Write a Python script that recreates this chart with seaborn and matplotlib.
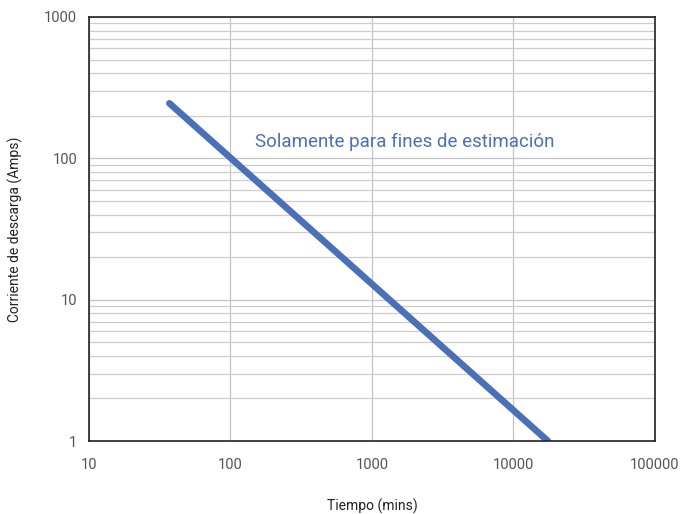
import pandas as pd
import numpy as np
import matplotlib.pyplot as plt
import seaborn as sb
from matplotlib.ticker import FixedLocator, FixedFormatter, LogLocator, NullFormatter

# ---- D A T A ----
tiempo = [37, 17500]
corriente = [245, 1]
x_ticks = [10, 100, 1000, 10000, 100000]
x_labels = ["10", "100", "1000", "10000", "100000"]
y_ticks = [1, 10, 100, 1000]
y_labels = ["1", "10", "100", "1000"]

df = pd.DataFrame({"Tiempo": tiempo, "Corriente": corriente})

# ---- P L O T ----
sb.set_style("white")
plt.rcParams["font.family"] = ["Roboto", "DejaVu Sans"]

fig = plt.figure(figsize=(6.82, 5.14), dpi=100)
ax = fig.add_axes([0.1305, 0.142, 0.8299, 0.825])

sb.lineplot(data=df, x="Tiempo", y="Corriente", ax=ax, color="#4a70b8",
            linewidth=4.8, solid_capstyle="round")

ax.set_xscale("log")
ax.set_yscale("log")
ax.set_xlim(10, 100000)
ax.set_ylim(1, 1000)

ax.xaxis.set_major_locator(FixedLocator(x_ticks))
ax.xaxis.set_major_formatter(FixedFormatter(x_labels))
ax.xaxis.set_minor_locator(FixedLocator([]))
ax.yaxis.set_major_locator(FixedLocator(y_ticks))
ax.yaxis.set_major_formatter(FixedFormatter(y_labels))
ax.yaxis.set_minor_locator(LogLocator(base=10, subs=np.arange(2, 10)))
ax.yaxis.set_minor_formatter(NullFormatter())

ax.grid(which="major", axis="both", color="#c4c4c4", linewidth=0.9)
ax.grid(which="minor", axis="y", color="#cccccc", linewidth=0.9)
ax.set_axisbelow(True)

for s in ax.spines.values():
    s.set_color("#222222")
    s.set_linewidth(1.2)

ax.tick_params(axis="both", which="major", direction="out", length=5,
               width=1, color="#222222", labelsize=10.5, labelcolor="#555555")
ax.tick_params(axis="x", which="major", pad=7)
ax.tick_params(axis="y", which="minor", length=0)

ax.set_xlabel("Tiempo (mins)", fontsize=10, color="#222222")
ax.xaxis.set_label_coords(0.5, -0.137)
ax.set_ylabel("Corriente de descarga (Amps)", fontsize=10, color="#222222")
ax.yaxis.set_label_coords(-0.117, 0.5)

ax.text(150, 130, "Solamente para fines de estimación", color="#4a70b8",
        fontsize=13.5, va="center", ha="left")

plt.savefig("out.png", dpi=100)
